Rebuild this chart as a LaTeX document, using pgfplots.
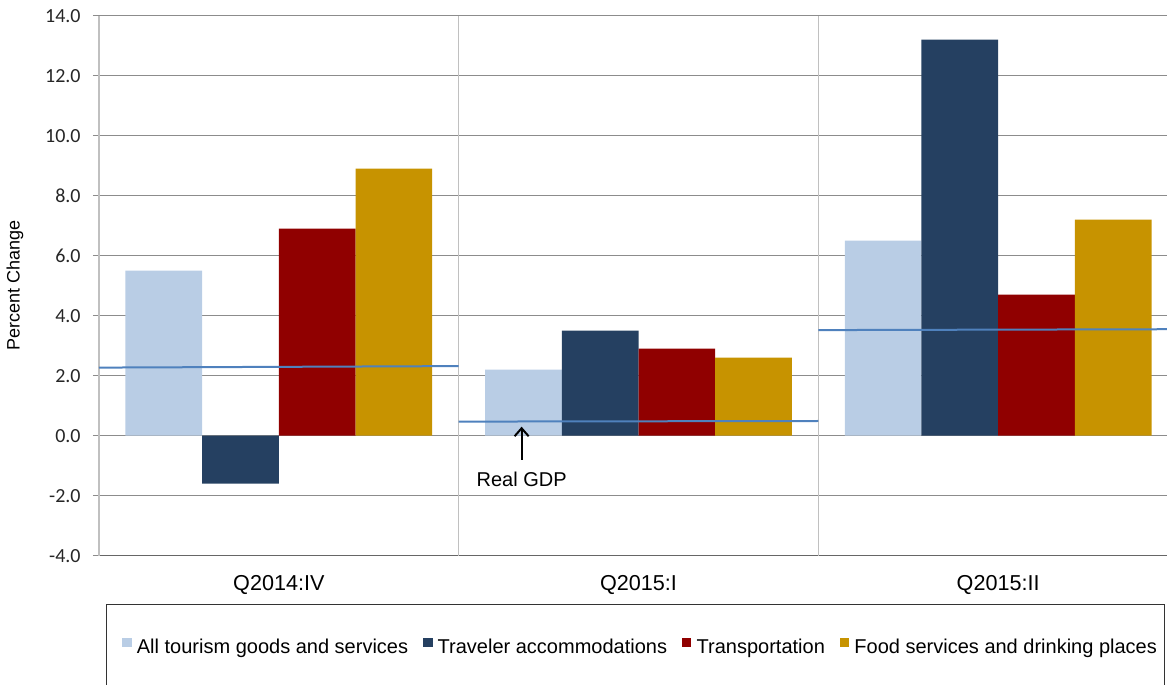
\documentclass[border=0pt]{standalone}
\usepackage{fontspec}
\setmainfont{Liberation Sans}
\newfontfamily\calibri{Carlito}
\usepackage{pgfplots}
\pgfplotsset{compat=1.18}
\usetikzlibrary{arrows.meta}

\definecolor{tourism}{HTML}{B9CDE5}
\definecolor{lodging}{HTML}{254061}
\definecolor{transport}{HTML}{900000}
\definecolor{food}{HTML}{C79300}
\definecolor{gdpline}{HTML}{4F81BD}
\definecolor{vgrid}{HTML}{C0C0C0}

\begin{document}
\begin{tikzpicture}
\begin{axis}[
    scale only axis, width=539.5pt, height=270pt,
    xmin=-0.5, xmax=2.5, ymin=-4, ymax=14,
    axis x line*=bottom, axis y line*=left,
    x axis line style={black!60, line width=0.6pt, -},
    y axis line style={vgrid, line width=1pt, -},
    xtick={0,1,2}, xticklabels={Q2014:IV, Q2015:I, Q2015:II},
    x tick style={draw=none},
    xticklabel style={font=\fontsize{10.8}{13}\selectfont, anchor=base, yshift=-14.6pt},
    extra x ticks={0.5,1.5}, extra x tick labels={},
    extra x tick style={grid=major, major grid style={vgrid, line width=0.75pt}, tick style={draw=none}},
    ytick={-4,-2,...,14},
    yticklabels={-4.0,-2.0,0.0,2.0,4.0,6.0,8.0,10.0,12.0,14.0},
    ymajorgrids, major grid style={black!45, line width=0.5pt},
    tick align=outside, major tick length=3pt,
    y tick style={black!45, line width=0.5pt},
    yticklabel style={font=\calibri\fontsize{10}{12}\selectfont, text=black!85, inner sep=0pt, xshift=-6pt},
    ylabel={Percent Change},
    ylabel style={font=\fontsize{9}{11}\selectfont, at={(axis description cs:-0.0778,0.5)}, anchor=center},
    legend columns=4,
    legend image code/.code={\fill[#1] (0pt,0.3pt) rectangle (4.7pt,5pt);},
    legend style={draw=none, fill=none, at={(axis description cs:0.501,-0.169)}, anchor=center,
        font=\fontsize{10}{12}\selectfont, nodes={inner sep=0pt},
        /tikz/every odd column/.style={column sep=2.6pt},
        /tikz/every even column/.style={column sep=7.5pt}},
]
% bars, placed at group centre +- offsets
\addplot[ybar, bar width=0.2132, bar shift=0pt, fill=tourism, draw=none]
    coordinates {(-0.3198,5.5) (0.6802,2.2) (1.6802,6.5)};
\addlegendentry{All tourism goods and services}
\addplot[ybar, bar width=0.2132, bar shift=0pt, fill=lodging, draw=none]
    coordinates {(-0.1066,-1.6) (0.8934,3.5) (1.8934,13.2)};
\addlegendentry{Traveler accommodations}
\addplot[ybar, bar width=0.2132, bar shift=0pt, fill=transport, draw=none]
    coordinates {(0.1066,6.9) (1.1066,2.9) (2.1066,4.7)};
\addlegendentry{Transportation}
\addplot[ybar, bar width=0.2132, bar shift=0pt, fill=food, draw=none]
    coordinates {(0.3198,8.9) (1.3198,2.6) (2.3198,7.2)};
\addlegendentry{Food services and drinking places}

% real GDP per quarter
\addplot[gdpline, line width=1pt, forget plot] coordinates {(-0.5,2.27) (0.5,2.32)};
\addplot[gdpline, line width=1pt, forget plot] coordinates {(0.5,0.47) (1.5,0.49)};
\addplot[gdpline, line width=1pt, forget plot] coordinates {(1.5,3.52) (2.5,3.55)};

\draw[-{Straight Barb[length=4pt,width=7pt]}, line width=1pt]
    (axis cs:0.675,-0.81) -- (axis cs:0.675,0.3);
\node[font=\fontsize{10}{12}\selectfont] at (axis cs:0.675,-1.44) {Real GDP};
\end{axis}
\draw[black!80, line width=0.5pt] (4pt,-24.15pt) rectangle (532.5pt,-90pt);
\pgfresetboundingbox
\path[use as bounding box] (-49.5pt,-64.65pt) rectangle (534pt,277.85pt);
\end{tikzpicture}
\end{document}
